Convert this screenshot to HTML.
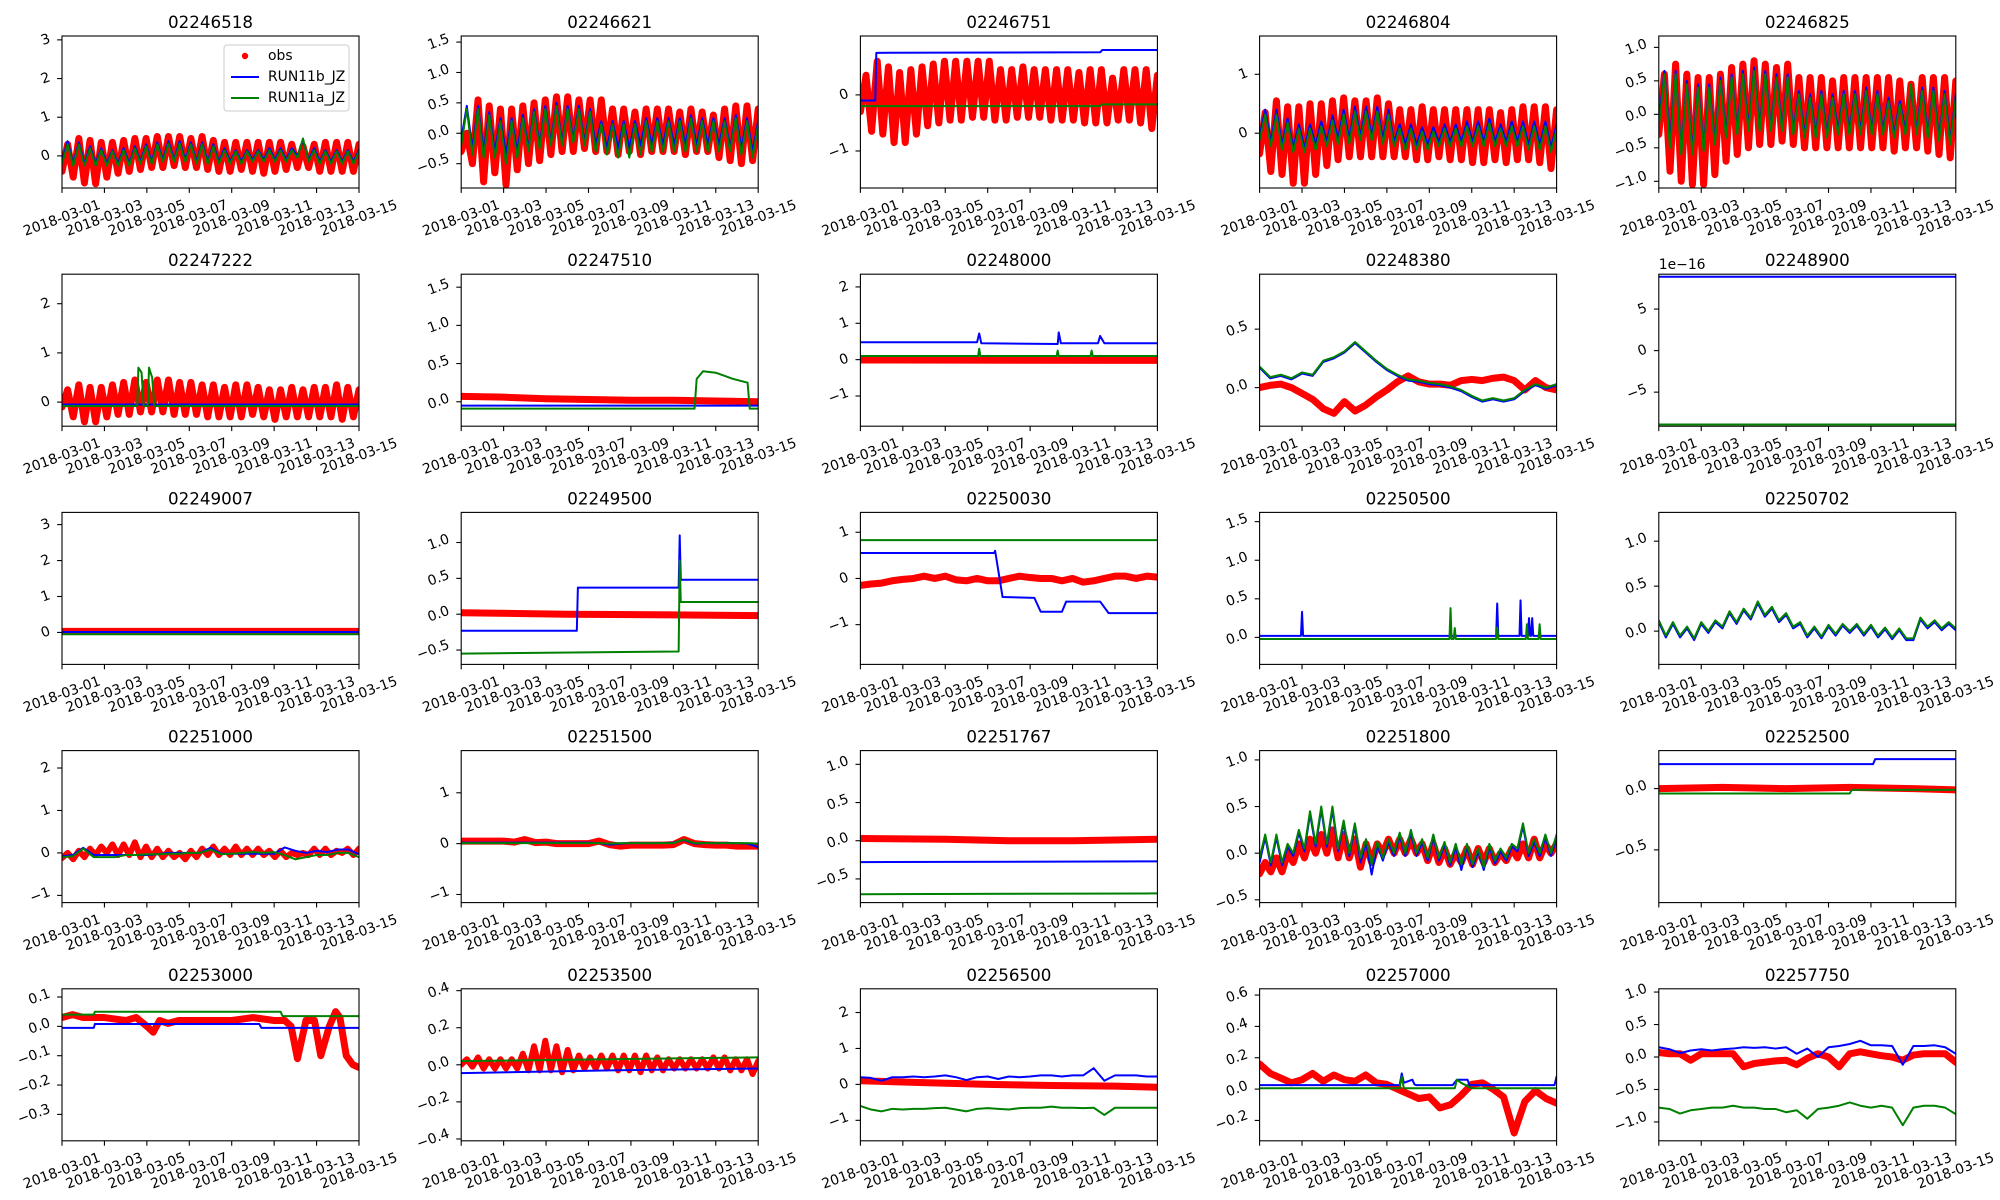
<!DOCTYPE html>
<html><head><meta charset="utf-8">
<style>
html,body{margin:0;padding:0;background:#fff;}
svg{display:block;font-family:"DejaVu Sans","Liberation Sans",sans-serif;}
</style></head>
<body>
<svg id="fig" width="2000" height="1200" viewBox="0 0 2000 1200" xmlns="http://www.w3.org/2000/svg"></svg>
<script>
// ---------- data (days since 2018-03-01) ----------
const xTickDays = [0,2,4,6,8,10,12,14];
const xTickLabels = ['2018-03-01','2018-03-03','2018-03-05','2018-03-07','2018-03-09','2018-03-11','2018-03-13','2018-03-15'];
const stationNames = ['02246518','02246621','02246751','02246804','02246825','02247222','02247510','02248000','02248380','02248900','02249007','02249500','02250030','02250500','02250702','02251000','02251500','02251767','02251800','02252500','02253000','02253500','02256500','02257000','02257750'];

const p01_obsHi=[0.3,0.45,0.4,0.35,0.35,0.4,0.45,0.45,0.5,0.5,0.5,0.45,0.5,0.4,0.35,0.35,0.35,0.35,0.35,0.35,0.3,0.25,0.3,0.35,0.35,0.35,0.3];
const p01_obsLo=[-0.4,-0.55,-0.7,-0.72,-0.55,-0.45,-0.4,-0.35,-0.3,-0.3,-0.25,-0.3,-0.3,-0.35,-0.4,-0.4,-0.35,-0.4,-0.45,-0.4,-0.35,-0.3,-0.3,-0.4,-0.4,-0.4,-0.4];
const p01_bHi=[0.38,0.35,0.25,0.2,0.15,0.2,0.25,0.3,0.35,0.38,0.38,0.35,0.35,0.3,0.2,0.15,0.15,0.15,0.2,0.2,0.2,0.4,0.2,0.15,0.15,0.15,0.15];
const p01_bLo=[-0.15,-0.2,-0.2,-0.2,-0.2,-0.2,-0.2,-0.15,-0.15,-0.1,-0.1,-0.1,-0.15,-0.15,-0.15,-0.15,-0.15,-0.1,-0.1,-0.1,-0.1,0.0,-0.1,-0.15,-0.15,-0.15,-0.15];
const p01_aHi=[0.3,0.3,0.2,0.15,0.12,0.15,0.2,0.25,0.3,0.32,0.32,0.3,0.3,0.25,0.15,0.12,0.12,0.12,0.15,0.15,0.15,0.45,0.15,0.12,0.12,0.12,0.12];
const p01_aLo=[-0.2,-0.25,-0.25,-0.25,-0.25,-0.25,-0.25,-0.2,-0.2,-0.15,-0.15,-0.15,-0.2,-0.2,-0.2,-0.2,-0.2,-0.15,-0.15,-0.15,-0.15,-0.05,-0.15,-0.2,-0.2,-0.2,-0.2];

const p02_obsHi=[0.0,0.55,0.45,0.4,0.4,0.45,0.5,0.55,0.6,0.6,0.55,0.55,0.55,0.4,0.4,0.35,0.4,0.4,0.4,0.35,0.4,0.35,0.3,0.4,0.45,0.45,0.4];
const p02_obsLo=[-0.3,-0.5,-0.8,-0.65,-0.85,-0.6,-0.5,-0.45,-0.35,-0.3,-0.3,-0.25,-0.3,-0.3,-0.35,-0.3,-0.35,-0.3,-0.3,-0.3,-0.35,-0.3,-0.3,-0.4,-0.45,-0.5,-0.45];
const p02_bHi=[0.45,0.45,0.35,0.25,0.25,0.3,0.4,0.45,0.5,0.45,0.45,0.4,0.2,0.2,0.2,0.2,0.25,0.25,0.25,0.25,0.3,0.25,0.25,0.25,0.3,0.25,0.2];
const p02_bLo=[-0.1,-0.25,-0.3,-0.3,-0.35,-0.3,-0.25,-0.2,-0.15,-0.15,-0.1,-0.15,-0.2,-0.25,-0.25,-0.25,-0.2,-0.2,-0.2,-0.2,-0.2,-0.2,-0.2,-0.2,-0.25,-0.25,-0.3];
const p02_aHi=[0.4,0.4,0.3,0.2,0.2,0.25,0.35,0.4,0.45,0.4,0.4,0.35,0.15,0.15,0.15,0.15,0.2,0.2,0.2,0.2,0.25,0.2,0.2,0.2,0.25,0.2,0.15];
const p02_aLo=[-0.2,-0.35,-0.4,-0.4,-0.5,-0.4,-0.3,-0.25,-0.2,-0.2,-0.15,-0.2,-0.3,-0.35,-0.4,-0.4,-0.35,-0.3,-0.3,-0.3,-0.3,-0.3,-0.3,-0.3,-0.3,-0.35,-0.4];

const p03_obsHi=[0.35,0.6,0.5,0.4,0.45,0.5,0.55,0.6,0.6,0.6,0.6,0.6,0.45,0.45,0.5,0.45,0.45,0.45,0.45,0.4,0.45,0.45,0.3,0.45,0.45,0.45,0.35];
const p03_obsLo=[-0.3,-0.65,-0.7,-0.85,-0.85,-0.7,-0.55,-0.5,-0.45,-0.45,-0.4,-0.4,-0.45,-0.45,-0.4,-0.4,-0.4,-0.45,-0.45,-0.45,-0.5,-0.5,-0.5,-0.45,-0.45,-0.5,-0.6];
const p03_bT=[0,0.7,0.75,11.3,11.4,14];
const p03_bV=[-0.1,-0.1,0.75,0.76,0.8,0.8];
const p03_aT=[0,11.3,11.4,14];
const p03_aV=[-0.2,-0.2,-0.17,-0.17];

const p04_obsHi=[0.35,0.55,0.45,0.45,0.5,0.5,0.55,0.6,0.55,0.55,0.6,0.5,0.4,0.4,0.45,0.4,0.4,0.4,0.4,0.4,0.4,0.35,0.4,0.45,0.45,0.45,0.4];
const p04_obsLo=[-0.35,-0.65,-0.7,-0.85,-0.85,-0.7,-0.55,-0.45,-0.4,-0.4,-0.4,-0.4,-0.4,-0.4,-0.45,-0.45,-0.4,-0.45,-0.45,-0.5,-0.5,-0.45,-0.5,-0.45,-0.45,-0.5,-0.6];
const p04_bHi=[0.4,0.4,0.25,0.15,0.15,0.2,0.3,0.4,0.45,0.45,0.45,0.4,0.15,0.15,0.1,0.1,0.15,0.15,0.2,0.2,0.25,0.15,0.2,0.2,0.2,0.2,0.15];
const p04_bLo=[-0.05,-0.15,-0.2,-0.25,-0.25,-0.2,-0.15,-0.1,-0.1,-0.05,-0.05,-0.1,-0.15,-0.2,-0.2,-0.2,-0.15,-0.15,-0.15,-0.15,-0.15,-0.15,-0.15,-0.15,-0.2,-0.2,-0.25];
const p04_aHi=[0.32,0.32,0.18,0.08,0.08,0.12,0.22,0.32,0.37,0.37,0.37,0.32,0.08,0.08,0.03,0.03,0.08,0.08,0.12,0.12,0.17,0.08,0.12,0.12,0.12,0.12,0.08];
const p04_aLo=[-0.12,-0.22,-0.28,-0.32,-0.32,-0.28,-0.22,-0.18,-0.18,-0.12,-0.12,-0.18,-0.22,-0.28,-0.28,-0.28,-0.22,-0.22,-0.22,-0.22,-0.22,-0.22,-0.22,-0.22,-0.28,-0.28,-0.32];

const p05_obsHi=[0.6,0.75,0.6,0.55,0.55,0.6,0.7,0.75,0.8,0.75,0.7,0.75,0.55,0.55,0.55,0.5,0.55,0.55,0.55,0.55,0.55,0.5,0.45,0.55,0.55,0.55,0.5];
const p05_obsLo=[-0.3,-0.85,-1.0,-1.05,-1.05,-0.9,-0.7,-0.6,-0.5,-0.45,-0.45,-0.4,-0.45,-0.5,-0.5,-0.5,-0.5,-0.5,-0.5,-0.5,-0.5,-0.55,-0.5,-0.5,-0.55,-0.6,-0.65];
const p05_bHi=[0.65,0.65,0.5,0.45,0.45,0.55,0.6,0.65,0.7,0.65,0.6,0.6,0.35,0.3,0.35,0.3,0.35,0.35,0.4,0.35,0.25,0.2,0.4,0.4,0.4,0.35,0.3];
const p05_bLo=[-0.1,-0.4,-0.55,-0.55,-0.5,-0.4,-0.3,-0.25,-0.2,-0.2,-0.2,-0.2,-0.25,-0.3,-0.3,-0.3,-0.25,-0.25,-0.25,-0.25,-0.25,-0.3,-0.25,-0.25,-0.3,-0.35,-0.4];
const p05_aHi=[0.6,0.6,0.45,0.4,0.4,0.5,0.55,0.6,0.65,0.6,0.55,0.55,0.3,0.25,0.3,0.25,0.3,0.3,0.35,0.3,0.2,0.15,0.45,0.35,0.35,0.3,0.25];
const p05_aLo=[-0.2,-0.5,-0.6,-0.6,-0.55,-0.45,-0.35,-0.3,-0.25,-0.25,-0.25,-0.25,-0.3,-0.35,-0.35,-0.35,-0.3,-0.3,-0.3,-0.3,-0.3,-0.35,-0.3,-0.3,-0.35,-0.4,-0.45];

const p06_obsHi=[0.25,0.35,0.3,0.3,0.35,0.4,0.45,0.4,0.45,0.45,0.4,0.4,0.35,0.35,0.3,0.35,0.35,0.3,0.25,0.25,0.3,0.25,0.3,0.3,0.35,0.3,0.25];
const p06_obsLo=[-0.1,-0.3,-0.4,-0.4,-0.3,-0.25,-0.25,-0.2,-0.2,-0.2,-0.25,-0.25,-0.25,-0.3,-0.3,-0.3,-0.3,-0.25,-0.3,-0.35,-0.3,-0.3,-0.3,-0.3,-0.3,-0.35,-0.3];
const p06_bT=[0,14];
const p06_bV=[-0.05,-0.05];
const p06_aT=[0,3.55,3.6,3.75,3.85,4.05,4.1,4.25,4.35,14];
const p06_aV=[-0.08,-0.08,0.7,0.6,-0.08,-0.08,0.7,0.5,-0.08,-0.08];

const p07_obsT=[0,2,4,6,8,10,12,14];
const p07_obsV=[0.07,0.06,0.04,0.03,0.02,0.02,0.01,0.0];
const p07_bT=[0,14];
const p07_bV=[-0.05,-0.05];
const p07_aT=[0,11.0,11.1,11.4,12.0,12.8,13.5,13.6,14];
const p07_aV=[-0.09,-0.09,0.3,0.4,0.38,0.3,0.25,-0.09,-0.09];

const p08_obsT=[0,14];
const p08_obsV=[-0.01,-0.02];
const p08_bT=[0,5.5,5.6,5.7,9.3,9.35,9.45,11.2,11.3,11.5,14];
const p08_bV=[0.48,0.48,0.72,0.45,0.43,0.75,0.45,0.45,0.65,0.45,0.45];
const p08_aT=[0,5.55,5.6,5.65,9.25,9.3,9.35,10.85,10.9,10.95,14];
const p08_aV=[0.1,0.1,0.3,0.1,0.1,0.25,0.1,0.1,0.25,0.1,0.1];

const p09_obs=[0.0,0.02,0.03,0.0,-0.05,-0.1,-0.18,-0.22,-0.12,-0.2,-0.15,-0.08,-0.02,0.05,0.1,0.05,0.03,0.03,0.02,0.06,0.07,0.06,0.08,0.09,0.06,-0.02,0.06,0.0,-0.02];
const p09_b=[0.17,0.08,0.1,0.07,0.12,0.1,0.22,0.25,0.3,0.38,0.3,0.22,0.15,0.1,0.06,0.05,0.03,0.02,0.0,-0.03,-0.08,-0.12,-0.1,-0.12,-0.1,-0.03,0.02,-0.01,0.02];
const p09_a=[0.18,0.09,0.11,0.08,0.13,0.11,0.23,0.26,0.31,0.39,0.31,0.23,0.16,0.11,0.07,0.06,0.04,0.03,0.01,-0.02,-0.07,-0.11,-0.09,-0.11,-0.09,-0.02,0.03,0.0,0.03];

const p10_bT=[0,14];
const p10_bV=[8.9,8.9];
const p10_aT=[0,14];
const p10_aV=[-8.9,-8.9];

const p11_obsT=[0,14];
const p11_obsV=[0.03,0.03];
const p11_bT=[0,14];
const p11_bV=[0.01,0.01];
const p11_aT=[0,14];
const p11_aV=[-0.05,-0.05];

const p12_obsT=[0,5,10,14];
const p12_obsV=[0.02,0.0,-0.01,-0.02];
const p12_bT=[0,5.45,5.5,10.25,10.3,10.35,14];
const p12_bV=[-0.23,-0.23,0.37,0.37,1.1,0.48,0.48];
const p12_aT=[0,10.25,10.3,10.35,14];
const p12_aV=[-0.55,-0.52,0.75,0.17,0.17];

const p13_obs=[-0.15,-0.12,-0.1,-0.05,-0.02,0.0,0.05,0.0,0.05,-0.03,-0.05,0.0,-0.05,-0.05,0.0,0.05,0.02,0.0,0.0,-0.05,0.0,-0.08,-0.05,0.0,0.05,0.05,0.0,0.05,0.03];
const p13_bT=[0,6.3,6.35,6.7,8.2,8.5,9.5,9.7,11.3,11.7,14];
const p13_bV=[0.55,0.55,0.6,-0.4,-0.42,-0.72,-0.72,-0.5,-0.5,-0.75,-0.75];
const p13_aT=[0,14];
const p13_aV=[0.83,0.83];

const p14_bT=[0,1.95,2.0,2.05,11.15,11.2,11.25,12.25,12.3,12.35,12.65,12.7,12.75,12.8,12.85,12.9,14];
const p14_bV=[0.02,0.02,0.33,0.02,0.02,0.44,0.02,0.02,0.48,0.02,0.02,0.25,0.02,0.02,0.25,0.02,0.02];
const p14_aT=[0,8.95,9.0,9.05,9.15,9.2,9.25,11.15,11.2,11.25,12.55,12.6,12.65,13.15,13.2,13.25,14];
const p14_aV=[-0.02,-0.02,0.38,-0.02,-0.02,0.12,-0.02,-0.02,0.13,-0.02,-0.02,0.17,-0.02,-0.02,0.17,-0.02,-0.02];

const p15_a=[0.12,-0.05,0.1,-0.05,0.05,-0.08,0.1,0.0,0.12,0.05,0.22,0.1,0.25,0.15,0.33,0.18,0.27,0.12,0.2,0.05,0.1,-0.05,0.05,-0.06,0.07,-0.03,0.08,0.0,0.08,-0.03,0.07,-0.05,0.04,-0.07,0.03,-0.08,-0.08,0.15,0.05,0.12,0.03,0.1,0.03];
const p15_b=[0.1,-0.07,0.08,-0.07,0.03,-0.1,0.08,-0.02,0.1,0.03,0.2,0.08,0.23,0.13,0.31,0.16,0.25,0.1,0.18,0.03,0.08,-0.07,0.03,-0.08,0.05,-0.05,0.06,-0.02,0.06,-0.05,0.05,-0.07,0.02,-0.09,0.01,-0.1,-0.1,0.13,0.03,0.1,0.01,0.08,0.01];

const p16_obsHi=[0.0,0.05,0.1,0.15,0.2,0.2,0.25,0.15,0.1,0.05,0.0,0.05,0.1,0.15,0.1,0.15,0.1,0.1,0.05,0.05,0.0,0.0,0.1,0.1,0.05,0.1,0.1];
const p16_obsLo=[-0.12,-0.15,-0.1,-0.05,0.0,-0.05,-0.05,-0.1,-0.1,-0.1,-0.1,-0.15,-0.1,-0.05,-0.05,-0.05,-0.05,-0.05,-0.05,-0.1,-0.1,-0.05,-0.05,-0.05,-0.05,0.0,-0.05];
const p16_b=[-0.08,-0.05,0.12,-0.05,-0.05,-0.05,-0.05,-0.05,-0.05,-0.03,0.0,0.0,0.0,0.0,0.12,-0.02,-0.02,-0.02,-0.02,-0.02,-0.02,0.13,0.05,0.0,0.05,0.02,0.08,0.08,-0.03];
const p16_a=[-0.1,-0.08,0.1,-0.1,-0.1,-0.1,-0.05,-0.05,-0.03,-0.03,-0.02,-0.02,0.0,0.0,0.08,-0.03,-0.02,0.0,0.02,0.0,0.02,-0.05,-0.15,-0.1,-0.05,-0.05,0.0,0.0,-0.1];

const p17_obs=[0.05,0.05,0.05,0.05,0.05,0.03,0.08,0.02,0.03,0.0,0.0,0.0,0.0,0.05,-0.02,-0.05,-0.03,-0.03,-0.03,-0.03,-0.02,0.08,0.0,-0.02,-0.03,-0.03,-0.05,-0.05,-0.05];
const p17_b=[0.02,0.02,0.02,0.02,0.02,0.02,0.02,0.02,0.02,0.02,0.02,0.02,0.02,0.01,-0.02,0.0,0.01,0.01,0.01,0.01,0.02,0.07,0.0,0.01,0.01,0.01,0.01,0.0,-0.07];
const p17_a=[0.01,0.01,0.01,0.01,0.01,0.01,0.01,0.01,0.01,0.01,0.01,0.01,0.01,0.01,0.0,0.01,0.01,0.01,0.01,0.01,0.01,0.08,0.01,0.01,0.01,0.01,0.01,0.01,0.0];

const p18_obsT=[0,4,7,10,14];
const p18_obsV=[0.03,0.02,0.0,0.0,0.02];
const p18_bT=[0,14];
const p18_bV=[-0.28,-0.27];
const p18_aT=[0,14];
const p18_aV=[-0.7,-0.69];

const p19_obsHi=[-0.1,-0.05,0.0,0.1,0.15,0.2,0.25,0.2,0.15,0.1,0.1,0.15,0.15,0.15,0.1,0.1,0.05,0.0,0.05,0.05,0.05,0.0,0.05,0.1,0.15,0.1,0.1];
const p19_obsLo=[-0.22,-0.2,-0.2,-0.1,-0.05,0.0,0.0,-0.05,-0.05,-0.15,-0.1,0.0,0.0,0.0,0.0,-0.08,-0.1,-0.12,-0.1,-0.12,-0.1,-0.1,-0.08,-0.05,-0.05,-0.05,0.0];
const p19_bHi=[0.17,0.17,0.07,0.22,0.42,0.47,0.47,0.32,0.29,0.12,0.09,0.12,0.19,0.22,0.12,0.17,0.09,0.07,0.07,0.02,0.07,0.02,0.07,0.29,0.12,0.17,0.17];
const p19_bLo=[-0.1,-0.13,-0.13,-0.03,0.02,0.07,0.07,0.02,-0.03,-0.1,-0.23,-0.08,-0.03,-0.03,-0.03,-0.08,-0.08,-0.13,-0.18,-0.15,-0.18,-0.11,-0.08,0.02,-0.03,-0.03,-0.03];
const p19_aHi=[0.2,0.2,0.1,0.25,0.45,0.5,0.5,0.35,0.32,0.15,0.12,0.15,0.22,0.25,0.15,0.2,0.12,0.1,0.1,0.05,0.1,0.05,0.1,0.32,0.15,0.2,0.2];
const p19_aLo=[-0.05,-0.1,-0.1,0.0,0.05,0.1,0.1,0.05,0.0,-0.05,-0.12,-0.05,0.0,0.0,0.0,-0.05,-0.05,-0.1,-0.12,-0.12,-0.15,-0.08,-0.05,0.05,0.0,0.0,0.0];

const p20_obsT=[0,3,6,9,12,14];
const p20_obsV=[0.0,0.01,0.0,0.01,0.0,-0.01];
const p20_bT=[0,10.1,10.2,14];
const p20_bV=[0.2,0.2,0.24,0.24];
const p20_aT=[0,9.0,9.1,14];
const p20_aV=[-0.04,-0.04,-0.01,-0.01];

const p21_obsT=[0,0.5,1,2,3,3.5,4,4.3,4.6,5,5.5,6,7,8,9,10,10.5,10.8,11.1,11.5,11.9,12.2,12.6,12.9,13.1,13.4,13.7,14];
const p21_obsV=[0.03,0.04,0.03,0.03,0.02,0.03,0.0,-0.02,0.02,0.01,0.02,0.02,0.02,0.02,0.03,0.02,0.02,0.0,-0.11,0.02,0.02,-0.1,0.0,0.05,0.03,-0.1,-0.13,-0.14];
const p21_bT=[0,1.5,1.55,9.3,9.4,14];
const p21_bV=[-0.005,-0.005,0.008,0.008,-0.005,-0.005];
const p21_aT=[0,1.5,1.55,10.3,10.4,14];
const p21_aV=[0.04,0.04,0.05,0.05,0.035,0.035];

const p22_obsHi=[0.03,0.04,0.03,0.03,0.03,0.06,0.1,0.13,0.1,0.08,0.05,0.04,0.05,0.05,0.05,0.05,0.05,0.04,0.03,0.03,0.03,0.03,0.04,0.04,0.03,0.03,0.02];
const p22_obsLo=[0.0,-0.01,-0.02,-0.02,-0.02,-0.02,-0.03,-0.03,-0.03,-0.04,-0.03,-0.02,-0.02,-0.02,-0.03,-0.03,-0.04,-0.03,-0.03,-0.02,-0.02,-0.02,-0.02,-0.02,-0.03,-0.03,-0.05];
const p22_bT=[0,7,14];
const p22_bV=[-0.045,-0.03,-0.02];
const p22_aT=[0,7,14];
const p22_aV=[0.02,0.03,0.04];

const p23_obsT=[0,3,6,9,12,14];
const p23_obsV=[0.1,0.05,0.0,-0.03,-0.05,-0.08];
const p23_b=[0.2,0.18,0.1,0.2,0.2,0.22,0.2,0.22,0.25,0.2,0.12,0.2,0.22,0.15,0.22,0.2,0.22,0.25,0.25,0.22,0.25,0.25,0.45,0.1,0.25,0.25,0.25,0.22,0.22];
const p23_a=[-0.6,-0.7,-0.75,-0.68,-0.7,-0.68,-0.68,-0.66,-0.65,-0.7,-0.75,-0.68,-0.66,-0.68,-0.7,-0.66,-0.65,-0.65,-0.62,-0.65,-0.65,-0.66,-0.65,-0.85,-0.65,-0.65,-0.65,-0.65,-0.65];

const p24_obs=[0.16,0.1,0.07,0.04,0.06,0.1,0.05,0.09,0.06,0.05,0.09,0.04,0.03,0.0,-0.03,-0.06,-0.05,-0.12,-0.1,-0.04,0.03,0.04,0.0,-0.05,-0.28,-0.08,-0.01,-0.06,-0.09];
const p24_bT=[0,6.6,6.7,6.8,7.2,7.3,7.4,9.1,9.3,9.8,9.9,13.9,14];
const p24_bV=[0.025,0.025,0.1,0.04,0.06,0.03,0.025,0.025,0.06,0.06,0.025,0.025,0.08];
const p24_aT=[0,6.6,6.7,6.8,9.2,9.3,9.5,10.0,14];
const p24_aV=[0.005,0.005,0.08,0.005,0.005,0.06,0.04,0.005,0.005];

const p25_obs=[0.07,0.05,0.05,-0.05,0.05,0.05,0.05,0.05,-0.15,-0.1,-0.08,-0.06,-0.05,-0.12,-0.02,0.05,0.0,-0.15,0.05,0.08,0.05,0.02,0.0,-0.05,0.03,0.05,0.05,0.05,-0.08];
const p25_b=[0.15,0.12,0.06,0.1,0.12,0.1,0.12,0.13,0.15,0.14,0.15,0.13,0.15,0.05,0.13,0.0,0.15,0.17,0.2,0.25,0.18,0.18,0.17,-0.12,0.17,0.17,0.18,0.15,0.05];
const p25_a=[-0.78,-0.8,-0.87,-0.82,-0.8,-0.78,-0.78,-0.75,-0.78,-0.78,-0.8,-0.8,-0.85,-0.82,-0.95,-0.8,-0.78,-0.75,-0.7,-0.75,-0.78,-0.75,-0.78,-1.05,-0.78,-0.75,-0.75,-0.78,-0.88];

// y-axis configuration per panel: [ymin, ymax], tick values, tick labels
const yRanges=[[-0.83,3.1],[-0.9,1.6],[-1.66,1.05],[-0.93,1.65],[-1.1,1.17],[-0.49,2.6],[-0.32,1.67],[-1.83,2.35],[-0.33,0.97],[-9.1,9.2],[-0.89,3.34],[-0.7,1.42],[-1.86,1.43],[-0.35,1.62],[-0.37,1.32],[-1.17,2.41],[-1.16,1.83],[-0.81,1.18],[-0.53,1.1],[-0.93,0.31],[-0.39,0.128],[-0.41,0.41],[-1.57,2.66],[-0.33,0.64],[-1.29,1.05]];
const yTicks=[[0,1,2,3],[-0.5,0,0.5,1,1.5],[-1,0],[0,1],[-1,-0.5,0,0.5,1],[0,1,2],[0,0.5,1,1.5],[-1,0,1,2],[0,0.5],[-5,0,5],[0,1,2,3],[-0.5,0,0.5,1],[-1,0,1],[0,0.5,1,1.5],[0,0.5,1],[-1,0,1,2],[-1,0,1],[-0.5,0,0.5,1],[-0.5,0,0.5,1],[-0.5,0],[-0.3,-0.2,-0.1,0,0.1],[-0.4,-0.2,0,0.2,0.4],[-1,0,1,2],[-0.2,0,0.2,0.4,0.6],[-1,-0.5,0,0.5,1]];
const yDecimals=[0,1,0,0,1,0,1,0,1,0,0,1,0,1,1,0,0,1,1,1,1,1,0,1,1];

// ---------- series assembly ----------
function inter(hi,lo){const o=[];for(let i=0;i<hi.length;i++){o.push(lo[i]);o.push(hi[i]);}return o;}
function S(v,t){return {v:v,t:t||null};}
const panels=[
 {obs:S(inter(p01_obsHi,p01_obsLo)),b:S(inter(p01_bHi,p01_bLo)),a:S(inter(p01_aHi,p01_aLo))},
 {obs:S(inter(p02_obsHi,p02_obsLo)),b:S(inter(p02_bHi,p02_bLo)),a:S(inter(p02_aHi,p02_aLo))},
 {obs:S(inter(p03_obsHi,p03_obsLo)),b:S(p03_bV,p03_bT),a:S(p03_aV,p03_aT)},
 {obs:S(inter(p04_obsHi,p04_obsLo)),b:S(inter(p04_bHi,p04_bLo)),a:S(inter(p04_aHi,p04_aLo))},
 {obs:S(inter(p05_obsHi,p05_obsLo)),b:S(inter(p05_bHi,p05_bLo)),a:S(inter(p05_aHi,p05_aLo))},
 {obs:S(inter(p06_obsHi,p06_obsLo)),b:S(p06_bV,p06_bT),a:S(p06_aV,p06_aT)},
 {obs:S(p07_obsV,p07_obsT),b:S(p07_bV,p07_bT),a:S(p07_aV,p07_aT)},
 {obs:S(p08_obsV,p08_obsT),b:S(p08_bV,p08_bT),a:S(p08_aV,p08_aT)},
 {obs:S(p09_obs),b:S(p09_b),a:S(p09_a)},
 {obs:null,b:S(p10_bV,p10_bT),a:S(p10_aV,p10_aT),offset:'1e\u221216'},
 {obs:S(p11_obsV,p11_obsT),b:S(p11_bV,p11_bT),a:S(p11_aV,p11_aT)},
 {obs:S(p12_obsV,p12_obsT),b:S(p12_bV,p12_bT),a:S(p12_aV,p12_aT)},
 {obs:S(p13_obs),b:S(p13_bV,p13_bT),a:S(p13_aV,p13_aT)},
 {obs:null,b:S(p14_bV,p14_bT),a:S(p14_aV,p14_aT)},
 {obs:null,b:S(p15_b),a:S(p15_a)},
 {obs:S(inter(p16_obsHi,p16_obsLo)),b:S(p16_b),a:S(p16_a),obsW:6},
 {obs:S(p17_obs),b:S(p17_b),a:S(p17_a)},
 {obs:S(p18_obsV,p18_obsT),b:S(p18_bV,p18_bT),a:S(p18_aV,p18_aT)},
 {obs:S(inter(p19_obsHi,p19_obsLo)),b:S(inter(p19_bHi,p19_bLo)),a:S(inter(p19_aHi,p19_aLo))},
 {obs:S(p20_obsV,p20_obsT),b:S(p20_bV,p20_bT),a:S(p20_aV,p20_aT)},
 {obs:S(p21_obsV,p21_obsT),b:S(p21_bV,p21_bT),a:S(p21_aV,p21_aT)},
 {obs:S(inter(p22_obsHi,p22_obsLo)),b:S(p22_bV,p22_bT),a:S(p22_aV,p22_aT),obsW:6},
 {obs:S(p23_obsV,p23_obsT),b:S(p23_b),a:S(p23_a)},
 {obs:S(p24_obs),b:S(p24_bV,p24_bT),a:S(p24_aV,p24_aT)},
 {obs:S(p25_obs),b:S(p25_b),a:S(p25_a)}
];

// ---------- rendering ----------
const NS='http://www.w3.org/2000/svg';
const svg=document.getElementById('fig');
const AX_L0=62, AX_DX=399.2, AX_W=297, AX_T0=36, AX_DY=238.2, AX_H=152;
const TICK_FS=13.9, TITLE_FS=16.7, ROT=20*Math.PI/180;
function el(tag,attrs,parent){const e=document.createElementNS(NS,tag);for(const k in attrs)e.setAttribute(k,attrs[k]);(parent||svg).appendChild(e);return e;}
function fmt(v,d){let s=v.toFixed(d);if(Math.abs(v)<1e-9)s=(0).toFixed(d);return s.replace('-','\u2212');}
const defs=el('defs',{});

function textW(g,str,fs){const t=el('text',{'font-size':fs,x:0,y:-1000},g);t.textContent=str;const w=t.getComputedTextLength();g.removeChild(t);return w;}

panels.forEach((p,i)=>{
  const col=i%5,row=Math.floor(i/5);
  const L=AX_L0+col*AX_DX, T=AX_T0+row*AX_DY, R=L+AX_W, B=T+AX_H;
  const [y0,y1]=yRanges[i];
  const xs=d=>L+d/14*AX_W;
  const ys=v=>B-(v-y0)/(y1-y0)*AX_H;
  const g=el('g',{});
  
  
  const cp=el('clipPath',{id:'c'+i},defs);
  el('rect',{x:L,y:T,width:AX_W,height:AX_H},cp);
  const pg=el('g',{'clip-path':'url(#c'+i+')'},g);
  
  
  function draw(s,color,w,name){
    if(!s)return;
    const n=s.v.length;
    const pts=s.v.map((v,k)=>{const t=s.t?s.t[k]:k*14/(n-1);return xs(t).toFixed(2)+','+ys(v).toFixed(2);}).join(' ');
    const pl=el('polyline',{points:pts,fill:'none',stroke:color,'stroke-width':w,'stroke-linejoin':'round','stroke-linecap':'round'},pg);
    
    
  }
  draw(p.obs,'#ff0000',p.obsW||7,'obs-series');
  draw(p.b,'#0000ff',2,'run11b-jz-line');
  draw(p.a,'#008000',2,'run11a-jz-line');
  const fr=el('rect',{x:L,y:T,width:AX_W,height:AX_H,fill:'none',stroke:'#000','stroke-width':1.1},g);
  
  
  // title
  const ti=el('text',{x:L+AX_W/2,y:T-8,'text-anchor':'middle','font-size':TITLE_FS},g);
  ti.textContent=stationNames[i];
  
  
  // x ticks
  const th=TICK_FS*1.05;
  xTickDays.forEach((d,k)=>{
    const x=xs(d);
    el('line',{x1:x,y1:B,x2:x,y2:B+4.9,stroke:'#000','stroke-width':1.1},g);
    const w=textW(g,xTickLabels[k],TICK_FS);
    const bh=w*Math.sin(ROT)+th*Math.cos(ROT);
    const cy=B+9.7+bh/2;
    const t=el('text',{x:x,y:cy,'text-anchor':'middle','dominant-baseline':'central','font-size':TICK_FS,transform:'rotate(-20 '+x+' '+cy+')'},g);
    t.textContent=xTickLabels[k];
    
    
  });
  // y ticks
  yTicks[i].forEach(v=>{
    const y=ys(v);
    el('line',{x1:L-4.9,y1:y,x2:L,y2:y,stroke:'#000','stroke-width':1.1},g);
    const s=fmt(v,yDecimals[i]);
    const w=textW(g,s,TICK_FS);
    const bw=w*Math.cos(ROT)+th*Math.sin(ROT);
    const cx=L-9.7-bw/2;
    const t=el('text',{x:cx,y:y,'text-anchor':'middle','dominant-baseline':'central','font-size':TICK_FS,transform:'rotate(-20 '+cx+' '+y+')'},g);
    t.textContent=s;
    
    
  });
  if(p.offset){
    const o=el('text',{x:L,y:T-5,'font-size':TICK_FS},g);
    o.textContent=p.offset;
    
    
  }
});

// legend in first panel
const lg=el('g',{});


el('rect',{x:224,y:45,width:125,height:66,rx:3,fill:'#fff','fill-opacity':0.8,stroke:'#ccc','stroke-width':1},lg);
const legItems=[['obs','#ff0000','dot'],['RUN11b_JZ','#0000ff','line'],['RUN11a_JZ','#008000','line']];
legItems.forEach((it,k)=>{
  const y=56+k*21;
  const e=el('g',{},lg);
  
  
  if(it[2]==='dot')el('circle',{cx:245,cy:y,r:3.2,fill:it[1]},e);
  else el('line',{x1:231,y1:y,x2:259,y2:y,stroke:it[1],'stroke-width':2},e);
  const t=el('text',{x:268,y:y,'dominant-baseline':'central','font-size':TICK_FS},e);
  t.textContent=it[0];
});
</script>
</body></html>
